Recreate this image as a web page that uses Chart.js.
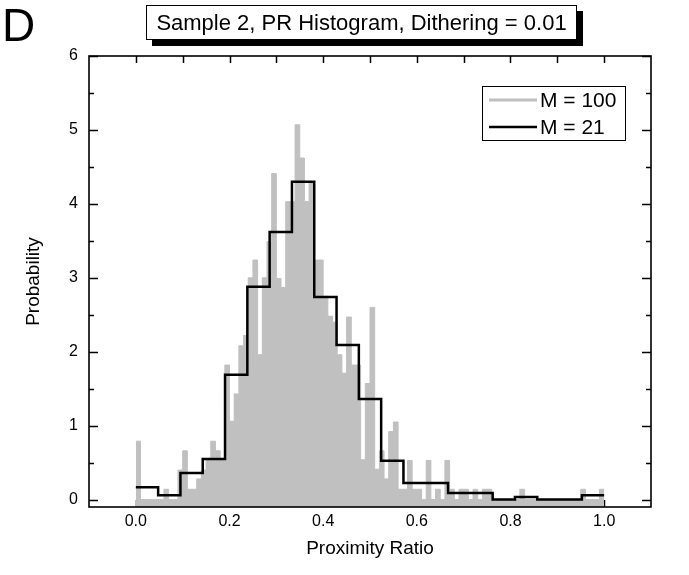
<!DOCTYPE html>
<html><head><meta charset="utf-8">
<script src="https://cdn.jsdelivr.net/npm/chart.js@4.4.1/dist/chart.umd.min.js"></script>
<style>
html,body{margin:0;padding:0;background:#fff;}
#wrap{position:relative;width:689px;height:575px;overflow:hidden;}
#panel{position:absolute;left:2px;top:2px;font-family:"Liberation Sans",Arial,sans-serif;font-size:46px;line-height:1;color:#000;}
#title{position:absolute;left:146px;top:5px;width:429px;height:33px;border:1px solid #000;background:#fff;box-shadow:6px 6px 0 #000;font-family:"Liberation Sans",Arial,sans-serif;font-size:22px;line-height:33px;text-align:center;color:#000;white-space:nowrap;}
#c{position:absolute;left:0;top:0;}
</style></head><body>
<div id="wrap">
<canvas id="c" width="689" height="575"></canvas>
<div id="panel">D</div>
<div id="title">Sample 2, PR Histogram, Dithering = 0.01</div>
</div>
<script>
// ---- data ----
const grayLabel = 'M = 100';
const grayBinWidth = 0.01;
const grayValues = [
  0.79, 0, 0, 0, 0, 0, 0.14, 0, 0, 0.40,
  0.66, 0.14, 0.14, 0.28, 0.40, 0.55, 0.79, 0.66, 0.53, 1.82,
  1.06, 1.43, 2.08, 2.22, 3.00, 3.24, 1.96, 3.00, 3.49, 4.41,
  2.99, 2.87, 4.03, 4.03, 5.07, 4.62, 4.03, 4.30, 3.24, 3.24,
  2.75, 2.48, 2.40, 1.96, 1.71, 2.47, 1.82, 1.82, 0.54, 1.57,
  2.60, 0.41, 0.66, 0.28, 0.92, 1.05, 0.14, 0.14, 0.53, 0.14,
  0.14, 0, 0.53, 0, 0.14, 0, 0.53, 0.14, 0, 0.14,
  0.14, 0, 0.14, 0, 0.14, 0.14, 0, 0, 0, 0,
  0, 0, 0.14, 0, 0, 0, 0, 0, 0, 0,
  0, 0, 0, 0, 0, 0.14, 0, 0, 0, 0.14
];
const blackLabel = 'M = 21';
const blackBinWidth = 1 / 21;
const blackValues = [
  0.167, 0.06, 0.36, 0.55, 1.69, 2.88, 3.62, 4.30, 2.74, 2.09, 1.36,
  0.527, 0.225, 0.225, 0.09, 0.09, 0, 0.035, 0, 0, 0.06
];
const xTickValues = [0, 0.2, 0.4, 0.6, 0.8, 1.0];
const xTickLabels = ['0.0', '0.2', '0.4', '0.6', '0.8', '1.0'];
const xTickMarks = [0, 0.1, 0.2, 0.3, 0.4, 0.5, 0.6, 0.7, 0.8, 0.9, 1.0];
const yTickValues = [0, 1, 2, 3, 4, 5, 6];
const yTickLabels = ['0', '1', '2', '3', '4', '5', '6'];
const yMinorMarks = [0.5, 1.5, 2.5, 3.5, 4.5, 5.5];
const xRange = [-0.1, 1.1];
const yRange = [-0.1, 6];

// ---- build step series ----
function stepPoints(values, width) {
  const pts = values.map((v, i) => ({ x: i * width, y: v }));
  pts.push({ x: values.length * width, y: values[values.length - 1] });
  return pts;
}

const FONT = "'Liberation Sans', Arial, sans-serif";
Chart.defaults.font.family = FONT;
Chart.defaults.color = '#000';

const framePlugin = {
  id: 'frame',
  beforeDatasetsDraw(chart) {
    const { ctx, chartArea: a, scales: { x, y } } = chart;
    ctx.save();
    ctx.strokeStyle = '#000';
    ctx.lineWidth = 1.5;
    ctx.beginPath();
    xTickMarks.forEach(v => {
      const px = Math.round(x.getPixelForValue(v)) + 0.5;
      ctx.moveTo(px, a.bottom); ctx.lineTo(px, a.bottom - 7);
      ctx.moveTo(px, a.top); ctx.lineTo(px, a.top + 7);
    });
    yTickValues.forEach(v => {
      const py = Math.round(y.getPixelForValue(v)) + 0.5;
      ctx.moveTo(a.left, py); ctx.lineTo(a.left + 9, py);
      ctx.moveTo(a.right, py); ctx.lineTo(a.right - 9, py);
    });
    yMinorMarks.forEach(v => {
      const py = Math.round(y.getPixelForValue(v)) + 0.5;
      ctx.moveTo(a.left, py); ctx.lineTo(a.left + 5, py);
      ctx.moveTo(a.right, py); ctx.lineTo(a.right - 5, py);
    });
    ctx.stroke();
    ctx.restore();
  },
  afterDatasetsDraw(chart) {
    const { ctx, chartArea: a } = chart;
    ctx.save();
    ctx.strokeStyle = '#000';
    ctx.lineWidth = 1.6;
    ctx.strokeRect(a.left, a.top, a.right - a.left, a.bottom - a.top);
    // legend
    const bx = 482.5, by = 86.5, bw = 143, bh = 54;
    ctx.fillStyle = '#fff';
    ctx.fillRect(bx, by, bw, bh);
    ctx.lineWidth = 1;
    ctx.strokeRect(bx, by, bw, bh);
    const ds = chart.data.datasets;
    const rows = [100, 127];
    ds.forEach((d, i) => {
      ctx.strokeStyle = d.borderColor;
      ctx.lineWidth = i === 0 ? 3 : 2.5;
      ctx.beginPath();
      ctx.moveTo(489, rows[i]); ctx.lineTo(537, rows[i]);
      ctx.stroke();
      ctx.fillStyle = '#000';
      ctx.font = '21px ' + FONT;
      ctx.textBaseline = 'middle';
      ctx.textAlign = 'left';
      ctx.fillText(d.label, 540, rows[i] + 1);
    });
    ctx.restore();
  }
};

new Chart(document.getElementById('c'), {
  type: 'line',
  data: {
    datasets: [
      {
        label: grayLabel,
        data: stepPoints(grayValues, grayBinWidth),
        stepped: true,
        fill: 'start',
        backgroundColor: '#c0c0c0',
        borderColor: '#c0c0c0',
        borderWidth: 1,
        pointRadius: 0,
        order: 2
      },
      {
        label: blackLabel,
        data: stepPoints(blackValues, blackBinWidth),
        stepped: true,
        fill: false,
        borderColor: '#000',
        borderWidth: 2.5,
        pointRadius: 0,
        order: 1
      }
    ]
  },
  options: {
    responsive: false,
    animation: false,
    layout: { padding: { left: 0, right: 38, top: 56, bottom: 0 } },
    plugins: { legend: { display: false }, tooltip: { enabled: false } },
    scales: {
      x: {
        type: 'linear',
        min: xRange[0], max: xRange[1],
        afterBuildTicks: s => { s.ticks = xTickValues.map(v => ({ value: v })); },
        afterFit: s => { s.height = 68; },
        ticks: {
          callback: (v, i) => xTickLabels[i],
          font: { size: 16 }, color: '#000', padding: 5,
          maxRotation: 0, autoSkip: false
        },
        grid: { display: false, drawTicks: false },
        border: { display: false },
        title: {
          display: true, text: 'Proximity Ratio', color: '#000',
          font: { size: 19 }, padding: { top: 0, bottom: 15 }
        }
      },
      y: {
        type: 'linear',
        min: yRange[0], max: yRange[1],
        afterBuildTicks: s => { s.ticks = yTickValues.map(v => ({ value: v })); },
        afterFit: s => { s.width = 89; },
        ticks: {
          callback: (v, i) => yTickLabels[i],
          font: { size: 16 }, color: '#000', padding: 11
        },
        grid: { display: false, drawTicks: false },
        border: { display: false },
        title: {
          display: true, text: 'Probability', color: '#000',
          font: { size: 19 }, padding: { top: 22, bottom: 0 }
        }
      }
    }
  },
  plugins: [framePlugin]
});
</script>
</body></html>
